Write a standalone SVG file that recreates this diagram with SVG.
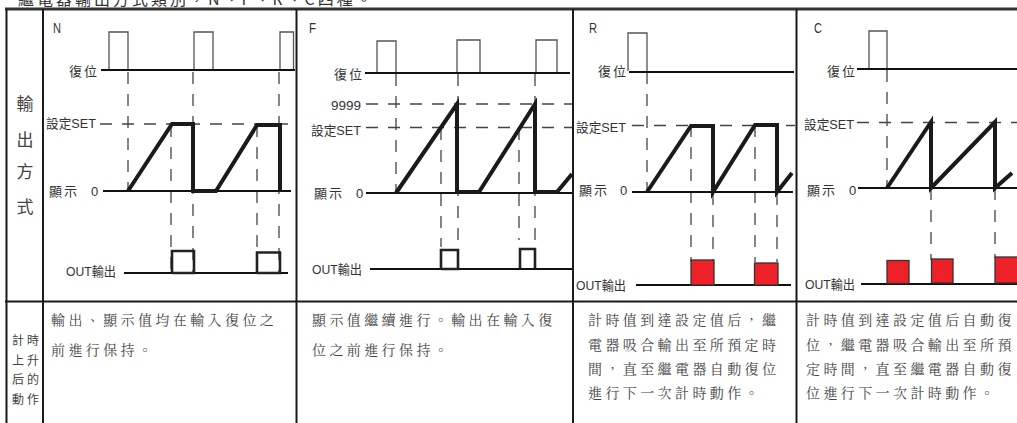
<svg xmlns="http://www.w3.org/2000/svg" width="1017" height="423" viewBox="0 0 1017 423">
<style>
text{font-family:"Liberation Sans","Noto Sans CJK TC",sans-serif;fill:#333}
.l{font-size:13px}
.m{font-size:15px}
.d{font-family:"Noto Serif CJK TC","Noto Sans CJK TC",sans-serif;font-size:14px;letter-spacing:3.4px;fill:#444}
.v{font-family:"Noto Sans CJK TC",sans-serif;font-size:17px;fill:#444}
.s{font-family:"Noto Sans CJK TC",sans-serif;font-size:12px;fill:#444}
.t{font-family:"Noto Sans CJK TC",sans-serif;font-size:16px;letter-spacing:3px}
.g{fill:none;stroke:#1a1a1a;stroke-width:2}
.h{fill:none;stroke:#333;stroke-width:3}
.b{fill:none;stroke:#111;stroke-width:1.8}
.p{fill:none;stroke:#555;stroke-width:1.3}
.da{fill:none;stroke:#444;stroke-width:1.3;stroke-dasharray:12 10}
.w{fill:none;stroke:#1a1a1a;stroke-width:4}
.o{fill:none;stroke:#222;stroke-width:2.6}
.r{fill:#ee2028;stroke:#333;stroke-width:1.3}
</style>
<rect width="1017" height="423" fill="#fff"/>
<text class="t" x="18" y="5">繼電器輸出方式類別，N、F、R、C四種。</text>
<g id="grid">
<path class="h" d="M5 9H1017"/>
<path class="g" d="M6.500 9V423M43 9V423M296.500 9V423M573 9V423M796.500 9V423M5 301.500H1017"/>
</g>
<g id="side-labels">
<text class="v" x="25" y="110" text-anchor="middle">輸</text>
<text class="v" x="25" y="146" text-anchor="middle">出</text>
<text class="v" x="25" y="178" text-anchor="middle">方</text>
<text class="v" x="25" y="213" text-anchor="middle">式</text>
<text class="s" x="12" y="345">計</text><text class="s" x="27" y="345">時</text>
<text class="s" x="12" y="365">上</text><text class="s" x="27" y="365">升</text>
<text class="s" x="12" y="384">后</text><text class="s" x="27" y="384">的</text>
<text class="s" x="12" y="404">動</text><text class="s" x="27" y="404">作</text>
</g>
<g id="connectors">
<path class="da" d="M128 72V190M171 125V272M193 72V272M257 125V272M279 72V272M100 124H295"/>
<path class="da" d="M396 74V192M441 128V247M458 74V247M519 128V240M535 74V240M366 104H572M366 127.500H572"/>
<path class="da" d="M647 72V190M691 125V262M713 193V262M755 125V262M777 193V262M632 125.500H795"/>
<path class="da" d="M887 70V188M931 188V260M995 188V258M857 122.500H1017"/>
</g>
<g id="mode-N">
<text class="m" x="53" y="33" textLength="8" lengthAdjust="spacingAndGlyphs">N</text>
<text class="l" x="69" y="76" textLength="28" lengthAdjust="spacing">復位</text>
<text class="l" x="46" y="128" textLength="50" lengthAdjust="spacingAndGlyphs">設定SET</text>
<text class="l" x="49" y="196" textLength="28" lengthAdjust="spacing">顯示</text>
<text class="l" x="91" y="196">0</text>
<text class="l" x="66" y="276" textLength="50" lengthAdjust="spacingAndGlyphs">OUT輸出</text>
<path class="p" d="M109 70V32H128V70M194 70V32H213V70M280 70V32H293.500V70"/>
<path class="b" d="M101 70H295M103 191H291M124 273H288"/>
<path class="w" d="M128 191L172 124H193V191H216L257 125H280V191"/>
<path class="o" d="M172 273V251H194V273H172M257 273V252.500H280V273H257"/>
</g>
<g id="mode-F">
<text class="m" x="309" y="33" textLength="7" lengthAdjust="spacingAndGlyphs">F</text>
<text class="l" x="334" y="79" textLength="28" lengthAdjust="spacing">復位</text>
<text class="l" x="331" y="110" textLength="30" lengthAdjust="spacingAndGlyphs">9999</text>
<text class="l" x="311" y="135" textLength="50" lengthAdjust="spacingAndGlyphs">設定SET</text>
<text class="l" x="314" y="198" textLength="28" lengthAdjust="spacing">顯示</text>
<text class="l" x="356" y="198">0</text>
<text class="l" x="312" y="274" textLength="50" lengthAdjust="spacingAndGlyphs">OUT輸出</text>
<path class="p" d="M377 73V41H396V73M457 73V40H480V73M536 72V40H557V72"/>
<path class="b" d="M365 73H570M366 193H572M370 269H572"/>
<path class="w" d="M396 193L457 104V192H479L535 104V192H557L572 174"/>
<path class="o" d="M441 269V250H458V269H441M520 268V249H535V268"/>
</g>
<g id="mode-R">
<text class="m" x="589" y="33" textLength="8" lengthAdjust="spacingAndGlyphs">R</text>
<text class="l" x="598" y="76" textLength="28" lengthAdjust="spacing">復位</text>
<text class="l" x="576" y="132" textLength="50" lengthAdjust="spacingAndGlyphs">設定SET</text>
<text class="l" x="579" y="195" textLength="28" lengthAdjust="spacing">顯示</text>
<text class="l" x="620" y="195">0</text>
<text class="l" x="576" y="290" textLength="50" lengthAdjust="spacingAndGlyphs">OUT輸出</text>
<path class="p" d="M628 71V33H647V71"/>
<path class="b" d="M629 72H794M632 192H793M636 285H791"/>
<path class="w" d="M647 192L691 126H713V192L755 125H777V192L792 173"/>
<rect class="r" x="691" y="260" width="23" height="25"/><rect class="r" x="754.500" y="263" width="23.500" height="22"/>
</g>
<g id="mode-C">
<text class="m" x="814" y="33" textLength="8" lengthAdjust="spacingAndGlyphs">C</text>
<text class="l" x="827" y="76" textLength="28" lengthAdjust="spacing">復位</text>
<text class="l" x="804" y="129" textLength="50" lengthAdjust="spacingAndGlyphs">設定SET</text>
<text class="l" x="807" y="195" textLength="28" lengthAdjust="spacing">顯示</text>
<text class="l" x="849" y="195">0</text>
<text class="l" x="805" y="289" textLength="50" lengthAdjust="spacingAndGlyphs">OUT輸出</text>
<path class="p" d="M869 69V31H887V69"/>
<path class="b" d="M857 69H1017M858 188H1017M861 284H1017"/>
<path class="w" d="M887 188L931 122V188L995 122V188L1012 173"/>
<rect class="r" x="887" y="260.500" width="22" height="23"/><rect class="r" x="931.500" y="259" width="21.500" height="24"/><rect class="r" x="995" y="257" width="23" height="26"/>
</g>
<g id="descriptions">
<text class="d" x="51" y="325">輸出、顯示值均在輸入復位之</text>
<text class="d" x="51" y="355">前進行保持。</text>
<text class="d" x="312" y="325">顯示值繼續進行。輸出在輸入復</text>
<text class="d" x="312" y="355">位之前進行保持。</text>
<text class="d" x="588" y="325">計時值到達設定值后，繼</text>
<text class="d" x="588" y="350">電器吸合輸出至所預定時</text>
<text class="d" x="588" y="374">間，直至繼電器自動復位</text>
<text class="d" x="588" y="398">進行下一次計時動作。</text>
<text class="d" x="806" y="325">計時值到達設定值后自動復</text>
<text class="d" x="806" y="350">位，繼電器吸合輸出至所預</text>
<text class="d" x="806" y="374">定時間，直至繼電器自動復</text>
<text class="d" x="806" y="398">位進行下一次計時動作。</text>
</g>
</svg>
